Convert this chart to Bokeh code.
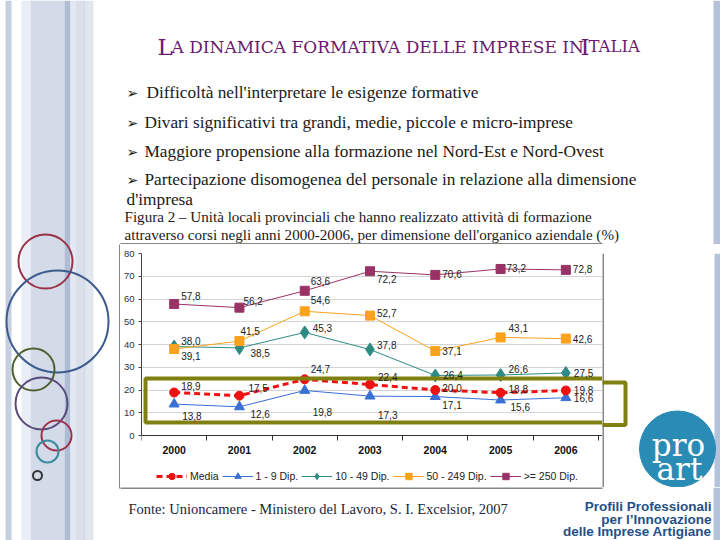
from bokeh.plotting import figure
from bokeh.layouts import row, column
from bokeh.models import (Range1d, FixedTicker, ColumnDataSource, LabelSet, Legend, LegendItem)
from bokeh.core.properties import value
from bokeh.embed import file_html
from bokeh.resources import INLINE

# data: share of local units that ran training courses (%)
years = [2000, 2001, 2002, 2003, 2004, 2005, 2006]
media = [18.9, 17.5, 24.7, 22.4, 20.0, 18.8, 19.8]
dip_1_9 = [13.8, 12.6, 19.8, 17.3, 17.1, 15.6, 16.6]
dip_10_49 = [39.1, 38.5, 45.3, 37.8, 26.4, 26.6, 27.5]
dip_50_249 = [38.0, 41.5, 54.6, 52.7, 37.1, 43.1, 42.6]
dip_250 = [57.8, 56.2, 63.6, 72.2, 70.6, 73.2, 72.8]
y_ticks = [0, 10, 20, 30, 40, 50, 60, 70, 80]

title_parts = ["L", "A DINAMICA FORMATIVA DELLE IMPRESE IN", "I", "TALIA"]
bullets = [
    "Difficoltà nell'interpretare le esigenze formative",
    "Divari significativi tra grandi, medie, piccole e micro-imprese",
    "Maggiore propensione alla formazione nel Nord-Est e Nord-Ovest",
    "Partecipazione disomogenea del personale in relazione alla dimensione",
]
caption = ["Figura 2 – Unità locali provinciali che hanno realizzato attività di formazione",
           "attraverso corsi negli anni 2000-2006, per dimensione dell'organico aziendale (%)"]
fonte = "Fonte: Unioncamere - Ministero del Lavoro, S. I. Excelsior, 2007"
logo_lines = ["Profili Professionali", "per l’Innovazione", "delle Imprese Artigiane"]

OLIVE = "#808010"


def deco(x0, x1, y0, y1):
    # plain figure whose data units are page pixels (y downwards)
    f = figure(width=x1 - x0, height=y1 - y0, x_range=Range1d(x0, x1), y_range=Range1d(y1, y0),
               output_backend="svg", toolbar_location=None, min_border=0,
               x_axis_type=None, y_axis_type=None)
    f.outline_line_color = None
    f.background_fill_color = "white"
    f.border_fill_color = "white"
    return f


def txt(f, x, y, s, size, color="#1a1a1a", font="Liberation Serif", align="left", style="normal"):
    f.text(x=[x], y=[y], text=[s], text_font=value(font), text_font_size=f"{size}px",
           text_color=color, text_align=align, text_baseline="alphabetic", text_font_style=style)


def bar(f, l, r, t, b, color):
    f.quad(left=[l], right=[r], top=[t], bottom=[b], fill_color=color, line_color=None)


# ---- left strip: stripes and circles
left = deco(0, 120, 0, 540)
for x0, x1, c in [(5, 11, "#c6cfdf"), (21, 30, "#e9edf5"), (30, 64, "#d3dae8"),
                  (64, 70, "#aebcd6"), (70, 75, "#e3e8f3"), (75, 84, "#d9dfeb"),
                  (84, 85, "#b9c4da"), (85, 93, "#e1e6ef")]:
    bar(left, x0, x1, 0, 540, c)
left.circle(x=[45, 57, 33, 41, 56, 47, 37], y=[261, 321, 369, 403, 435, 451, 475],
            radius=[27, 51, 21, 26, 15, 11, 4.5], fill_color=None, line_width=2,
            line_color=["#9b3348", "#3b5b8c", "#4e6030", "#5a4a7a", "#a0304a", "#3a8aa0", "#333333"])
bar(left, 119, 120, 244, 488, "#111111")

# ---- top block: title, bullets, caption
top = deco(120, 720, 0, 244)
bar(top, 713, 720, 0, 244, "#b4c2dc")
tc = "#6a1a70"
txt(top, 157, 46, title_parts[0], 23, tc, "DejaVu Serif")
txt(top, 171, 46, title_parts[1], 17, tc, "DejaVu Serif")
txt(top, 580, 46, title_parts[2], 23, tc, "DejaVu Serif")
txt(top, 588, 46, title_parts[3], 16.5, tc, "DejaVu Serif")
for (bx, tx, by), b in zip([(126, 146, 92), (126, 144, 122), (126, 144, 151), (126, 144, 179)], bullets):
    txt(top, bx, by, "➢", 14, "#1a1a1a", "DejaVu Sans")
    txt(top, tx, by, b, 17.3)
txt(top, 126, 199, "d'impresa", 17.3)
txt(top, 124, 216, caption[0], 15.1)
txt(top, 124, 234, caption[1], 15.1)
bar(top, 119, 602, 243, 244, "#111111")

# ---- chart: the frame runs down to the box edge so the legend sits inside it
FL, FR, FT, FB, FZ = 140, 601, 253, 487, 435   # FZ: pixel row of y = 0
step = (597 - FL) / len(years)
x_end = years[-1] + 0.5 + (FR - 597) / step
y_start = -80 * (FB - FZ) / (FZ - FT)
p = figure(frame_width=FR - FL, frame_height=FB - FT,
           x_range=Range1d(years[0] - 0.5, x_end), y_range=Range1d(y_start, 80),
           output_backend="svg", toolbar_location=None,
           min_border_left=FL - 120, min_border_right=0,
           min_border_top=FT - 244, min_border_bottom=0)
p.background_fill_color = "white"
p.border_fill_color = "white"
p.outline_line_color = None
p.extra_x_ranges = {"px": Range1d(FL, FR)}
p.extra_y_ranges = {"px": Range1d(FB, FT)}

series = [
    ("1 - 9 Dip.", dip_1_9, "#3a6fd4", "triangle", 10, None, 1),
    ("10 - 49 Dip.", dip_10_49, "#2e8b84", "diamond", 13, None, 1),
    ("50 - 249 Dip.", dip_50_249, "#f9a21b", "square", 9, None, 1),
    (">= 250 Dip.", dip_250, "#993366", "square", 9, None, 1),
    ("Media", media, "#ee1111", "circle", 9, "6 4", 3),
]
offsets = {
    "1 - 9 Dip.": ([8, 11, 8, 8, 7, 10, 8], [-12, -7, -22, -19, -8, -7, 0]),
    "10 - 49 Dip.": ([7, 11, 8, 7, 8, 8, 8], [-9, -5, 4, 5, 0, 6, 0]),
    "50 - 249 Dip.": ([7, 1, 6, 7, 7, 8, 7], [8, 10, 11, 3, 0, 9, 0]),
    ">= 250 Dip.": ([7, 4, 6, 7, 7, 6, 7], [8, 7, 10, -8, 1, 1, 1]),
    "Media": ([7, 9, 6, 8, 7, 8, 8], [7, 8, 10, 8, 2, 4, 0]),
}

items = {}
for name, vals, col, mk, sz, dash, lw in series:
    xo, yo = offsets[name]
    src = ColumnDataSource(dict(x=years, y=vals, t=[f"{v:.1f}".replace(".", ",") for v in vals],
                                xo=xo, yo=yo))
    ln = p.line("x", "y", source=src, line_color=col, line_width=lw,
                line_dash=dash if dash else "solid")
    sc = p.scatter("x", "y", source=src, marker=mk, size=sz, fill_color=col, line_color=col)
    p.add_layout(LabelSet(x="x", y="y", text="t", source=src, x_offset="xo", y_offset="yo",
                          text_font=value("Liberation Sans"), text_font_size="10px",
                          text_color="#222222", text_baseline="middle", text_align="left"))
    items[name] = LegendItem(label=name, renderers=[ln, sc])

# highlight box (continues in the logo block)
p.quad(left=[144], right=[624], top=[378], bottom=[422], fill_alpha=0, line_color=OLIVE,
       line_width=4, x_range_name="px", y_range_name="px")

legend = Legend(items=[items[n] for n in ["Media", "1 - 9 Dip.", "10 - 49 Dip.", "50 - 249 Dip.", ">= 250 Dip."]],
                orientation="horizontal", location=(15, 3), glyph_width=31, glyph_height=16,
                label_standoff=3, spacing=3, padding=0, margin=0, border_line_color=None,
                background_fill_alpha=0, label_text_font="Liberation Sans",
                label_text_font_size="10.5px", label_text_color="#222222")
p.add_layout(legend)

p.xaxis.fixed_location = 0
p.xaxis.ticker = FixedTicker(ticks=years, minor_ticks=[y - 0.5 for y in years] + [years[-1] + 0.5])
p.xaxis.major_tick_out = 0
p.xaxis.major_tick_in = 0
p.xaxis.minor_tick_out = 5
p.xaxis.minor_tick_in = 0
p.xaxis.minor_tick_line_color = "#333333"
p.xaxis.axis_line_color = "#333333"
p.xaxis.major_label_standoff = 5
p.xaxis.major_label_text_font = "Liberation Sans"
p.xaxis.major_label_text_font_style = "bold"
p.xaxis.major_label_text_font_size = "10.5px"
p.xaxis.major_label_text_color = "#111111"

p.yaxis.bounds = (0, 80)
p.yaxis.ticker = FixedTicker(ticks=y_ticks)
p.yaxis.major_tick_out = 3
p.yaxis.major_tick_in = 0
p.yaxis.minor_tick_out = 0
p.yaxis.minor_tick_in = 0
p.yaxis.axis_line_color = "#444444"
p.yaxis.major_tick_line_color = "#444444"
p.yaxis.major_label_standoff = 4
p.yaxis.major_label_text_font = "Liberation Sans"
p.yaxis.major_label_text_font_size = "9.5px"
p.yaxis.major_label_text_color = "#333333"

p.xgrid.visible = False
p.ygrid.ticker = FixedTicker(ticks=y_ticks)
p.ygrid.grid_line_color = "#d4d4d4"

# ---- logo block beside the chart
logo = deco(601, 720, 244, 487)
bar(logo, 713, 720, 244, 487, "#b4c2dc")
bar(logo, 601, 602, 244, 488, "#111111")
logo.quad(left=[144], right=[624], top=[378], bottom=[422], fill_alpha=0, line_color=OLIVE, line_width=4)
logo.circle(x=[676], y=[447], radius=[38], fill_color="#2a8bb5", line_color="#2a8bb5")
txt(logo, 677, 443, "pro", 31, "white", "DejaVu Serif", "center")
txt(logo, 678, 468, "art", 31, "white", "DejaVu Serif", "center")

# ---- bottom strip: source and logo caption
bottom = deco(120, 720, 487, 540)
bar(bottom, 713, 720, 487, 540, "#b4c2dc")
bar(bottom, 119, 602, 487, 488, "#111111")
txt(bottom, 128, 508, fonte, 14.5, "#1c2636")
for yy, s in zip([506, 519, 531], logo_lines):
    txt(bottom, 711, yy, s, 13.5, "#24508a", "Liberation Sans", "right", "bold")

page = row(left, column(top, row(p, logo), bottom))
open("out.html", "w").write(file_html(page, INLINE))
